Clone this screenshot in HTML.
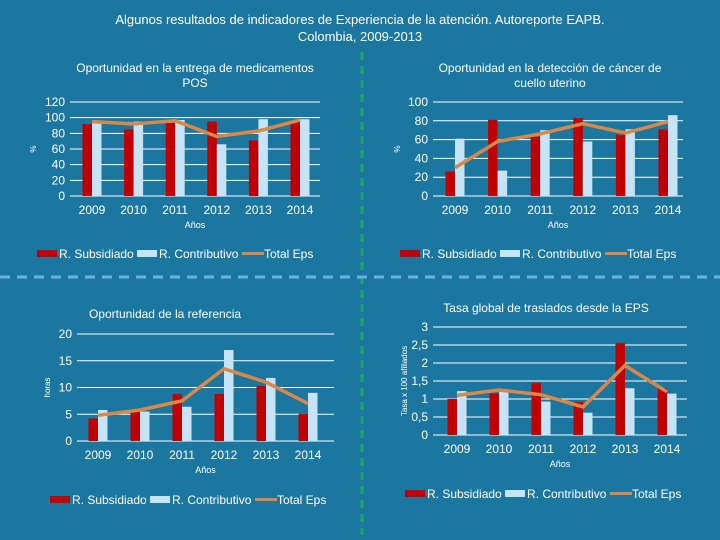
<!DOCTYPE html>
<html><head><meta charset="utf-8"><style>
body{margin:0;background:#1b77a0;}
#root{position:relative;width:720px;height:540px;background:#1b77a0;overflow:hidden;font-family:"Liberation Sans",sans-serif;color:#fff;}
svg text{font-family:"Liberation Sans",sans-serif;fill:#fff;}
</style></head><body>
<div id="root">
<svg id="svg" width="720" height="540">
<text x="360" y="24" font-size="13" text-anchor="middle">Algunos resultados de indicadores de Experiencia de la atención. Autoreporte EAPB.</text>
<text x="360" y="41" font-size="13" text-anchor="middle">Colombia, 2009-2013</text>
<line x1="362" y1="52" x2="362" y2="535" stroke="#1aa860" stroke-width="3" stroke-dasharray="8,6"/>
<line x1="0" y1="277" x2="720" y2="277" stroke="#6ab0e8" stroke-width="3" stroke-dasharray="10,7"/>
</svg>
</div>
<script>
const years = ["2009","2010","2011","2012","2013","2014"];
const c1Sub = [92,85,93,95,71,95];
const c1Con = [95,95,97,66,98,98];
const c1Tot = [95,92,96,76,83,97];
const c1Ticks = ["0","20","40","60","80","100","120"];
const c2Sub = [26,81,63,83,65,71];
const c2Con = [61,27,70,58,71,86];
const c2Tot = [30,58,66,77,67,79];
const c2Ticks = ["0","20","40","60","80","100"];
const c3Sub = [4.2,5.6,8.8,8.8,10.3,5.1];
const c3Con = [5.8,5.5,6.4,17,11.8,9];
const c3Tot = [4.8,5.8,7.5,13.5,11,7];
const c3Ticks = ["0","5","10","15","20"];
const c4Sub = [1,1.15,1.45,0.92,2.55,1.3];
const c4Con = [1.22,1.25,0.93,0.62,1.3,1.15];
const c4Tot = [1.1,1.25,1.12,0.78,1.93,1.2];
const c4Ticks = ["0","0,5","1","1,5","2","2,5","3"];

const NS="http://www.w3.org/2000/svg";
const svg=document.getElementById('svg');
function mk(tag,attrs,parent){const e=document.createElementNS(NS,tag);for(const k in attrs)e.setAttribute(k,attrs[k]);(parent||svg).appendChild(e);return e;}
function txt(x,y,s,size,anchor,parent){const t=mk('text',{x:x,y:y,'font-size':size,'text-anchor':anchor||'middle'},parent);t.textContent=s;return t;}

function chart(id,cfg,sub,con,tot,ticks){
  const g=mk('g',{});
  
  
  const max=parseFloat(ticks[ticks.length-1].replace(',','.'));
  const yS=v=>cfg.y0-(v/max)*(cfg.y0-cfg.yTop);
  const xS=i=>cfg.xc0+i*cfg.dx;
  ticks.forEach(t=>{
    const v=parseFloat(t.replace(',','.'));
    const y=yS(v);
    const l=mk('line',{x1:cfg.xl,x2:cfg.xr,y1:y,y2:y,stroke:'#fff','stroke-width':1},g);
    
    
    const tt=txt(cfg.xl-5,y+4,t,12,'end',g);
    
    
  });
  const bw=9.5;
  years.forEach((yr,i)=>{
    const cx=xS(i);
    const r=mk('rect',{x:cx-bw,y:yS(sub[i]),width:bw,height:cfg.y0-yS(sub[i]),fill:'#c00000'},g);
    
    
    const b=mk('rect',{x:cx,y:yS(con[i]),width:bw,height:cfg.y0-yS(con[i]),fill:'#c6e4f8'},g);
    
    
    const xl=txt(cx,cfg.y0+18,yr,12,'middle',g);
    
    
  });
  const pts=tot.map((v,i)=>xS(i)+','+yS(v)).join(' ');
  const pl=mk('polyline',{points:pts,fill:'none',stroke:'#d9884a','stroke-width':3.5},g);
  
  
  const xt=txt((cfg.xl+cfg.xr)/2,cfg.y0+32,'Años',9,'middle',g);
  
  
  const yt=mk('text',{x:0,y:0,'font-size':8,'text-anchor':'middle',transform:`translate(${cfg.yLabX},${(cfg.y0+cfg.yTop)/2}) rotate(-90)`},g);
  yt.textContent=cfg.yLab;
  
  
  cfg.title.forEach((s,k)=>{
    const t=txt(cfg.titleX,cfg.titleY+k*15,s,12,'middle',g);
    
    
  });
  const lx=cfg.legX, ly=cfg.legY;
  const items=[['R. Subsidiado','#c00000','rect'],['R. Contributivo','#c6e4f8','rect'],['Total Eps','#d9884a','line']];
  const offs=[0,100,205];
  items.forEach((it,k)=>{
    const x=lx+offs[k];
    if(it[2]==='rect'){const s=mk('rect',{x:x,y:ly-7,width:20,height:7,fill:it[1]},g);}
    else{const s=mk('line',{x1:x,x2:x+22,y1:ly-3.5,y2:ly-3.5,stroke:it[1],'stroke-width':3},g);}
    const t=txt(x+22,ly+1,it[0],12,'start',g);
    
    
  });
}
chart('chart-medicamentos',{y0:196,yTop:102,xl:70,xr:320,xc0:92,dx:41.6,yLab:'%',yLabX:36,title:['Oportunidad en la entrega de medicamentos','POS'],titleX:195,titleY:72,legX:37,legY:257},c1Sub,c1Con,c1Tot,c1Ticks);
chart('chart-cancer-cuello',{y0:196,yTop:102,xl:433,xr:683,xc0:455,dx:42.6,yLab:'%',yLabX:400,title:['Oportunidad en la detección de cáncer de','cuello uterino'],titleX:550,titleY:72,legX:400,legY:257},c2Sub,c2Con,c2Tot,c2Ticks);
chart('chart-referencia',{y0:441,yTop:334,xl:77,xr:334,xc0:98,dx:42,yLab:'horas',yLabX:50,title:['Oportunidad de la referencia'],titleX:165,titleY:318,legX:50,legY:503},c3Sub,c3Con,c3Tot,c3Ticks);
chart('chart-traslados',{y0:435,yTop:327,xl:433,xr:687,xc0:457,dx:42,yLab:'Tasa x 100 afiliados',yLabX:407,title:['Tasa global de traslados desde la EPS'],titleX:546,titleY:312,legX:405,legY:497},c4Sub,c4Con,c4Tot,c4Ticks);
</script>
</body></html>
